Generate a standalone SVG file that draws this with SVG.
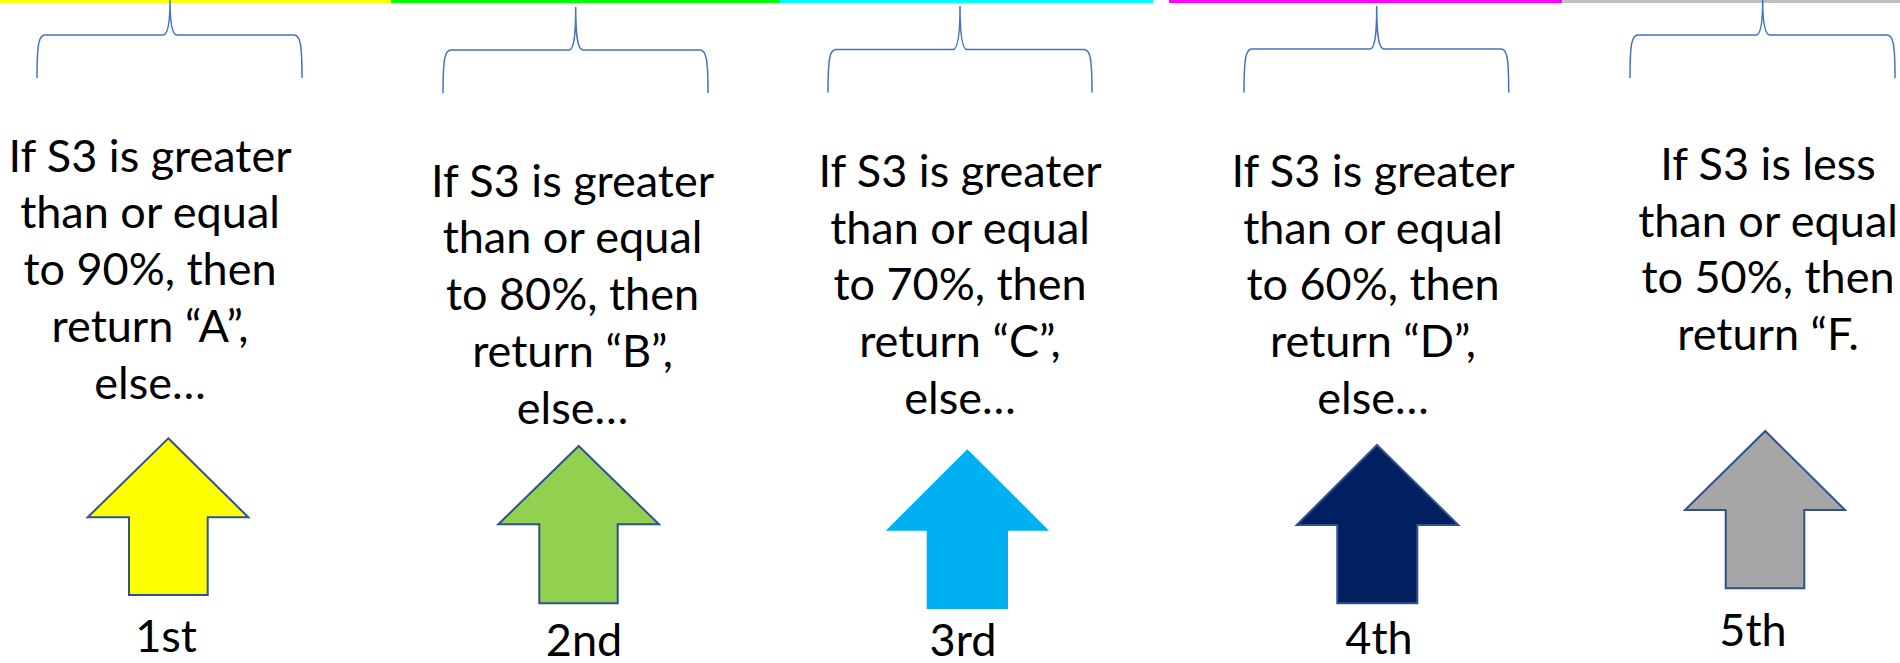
<svg xmlns="http://www.w3.org/2000/svg" width="1900" height="663" viewBox="0 0 1900 663">
<style>
.brace{fill:none;stroke:#4472C4;stroke-width:1.5}
.arrow{stroke:#2F528F;stroke-width:2;stroke-linejoin:miter}
.t{font-family:Lato,"Open Sans",sans-serif;font-size:45px;fill:#000;text-anchor:middle}
</style>
<rect width="1900" height="663" fill="#fff"/>
<g id="topbar">
<rect x="0" y="0" width="391" height="3" fill="#FFFF00"/>
<rect x="391" y="0" width="389" height="3" fill="#00FF00"/>
<rect x="780" y="0" width="373" height="3" fill="#00FFFF"/>
<rect x="1169" y="0" width="393" height="3" fill="#FF00FF"/>
<rect x="1562" y="0" width="338" height="3" fill="#BFBFBF"/>
</g>
<g id="connectors">
<path class="brace" d="M37,78 C37,43 39,35 45,35 L163,35 C168,35 170,20 170,0 C170,20 172,35 177,35 L294,35 C300,35 302,43 302,78"/>
<path class="brace" d="M443,93 C443,58 445,50 451,50 L569,50 C574,50 575.7,35 575.7,7 C575.7,35 577.5,50 583,50 L700,50 C706,50 708,58 708,93"/>
<path class="brace" d="M828,92.5 C828,57.5 830,49.5 836,49.5 L953,49.5 C958,49.5 960,34.5 960,6 C960,34.5 962,49.5 967,49.5 L1084,49.5 C1090,49.5 1092,57.5 1092,92.5"/>
<path class="brace" d="M1244,92.5 C1244,57 1246,49 1252,49 L1370,49 C1375,49 1376.7,34 1376.7,6 C1376.7,34 1378.5,49 1384,49 L1501,49 C1507,49 1508.7,57 1508.7,92.5"/>
<path class="brace" d="M1630,78 C1630,43 1632,35 1638,35 L1756,35 C1761,35 1762.7,20 1762.7,0 C1762.7,20 1764.5,35 1770,35 L1887,35 C1893,35 1895,43 1895,78"/>
</g>
<g id="node1">
<text class="t"><tspan x="150" y="171.7">If S3 is greater</tspan><tspan x="150" y="228.4">than or equal</tspan><tspan x="150" y="285.1">to 90%, then</tspan><tspan x="150" y="341.8">return “A”,</tspan><tspan x="150" y="398.5">else…</tspan></text>
<polygon class="arrow" fill="#FFFF00" points="168.3,438.3 248.3,517.3 207.7,517.3 207.7,595 129,595 129,517.3 87.7,517.3"/>
<text class="t" x="166" y="652">1st</text>
</g>
<g id="node2">
<text class="t"><tspan x="572.5" y="196.7">If S3 is greater</tspan><tspan x="572.5" y="253.4">than or equal</tspan><tspan x="572.5" y="310.1">to 80%, then</tspan><tspan x="572.5" y="366.8">return “B”,</tspan><tspan x="572.5" y="423.5">else…</tspan></text>
<polygon class="arrow" fill="#92D050" points="578.7,446 659,524.3 617.7,524.3 617.7,603.3 539.3,603.3 539.3,524.3 498.3,524.3"/>
<text class="t" x="584" y="656">2nd</text>
</g>
<g id="node3">
<text class="t"><tspan x="960" y="187">If S3 is greater</tspan><tspan x="960" y="243.7">than or equal</tspan><tspan x="960" y="300.4">to 70%, then</tspan><tspan x="960" y="357.1">return “C”,</tspan><tspan x="960" y="413.8">else…</tspan></text>
<polygon fill="#00B0F0" points="967.3,449.3 1049,530.7 1008,530.7 1008,609 926.7,609 926.7,530.7 885.7,530.7"/>
<text class="t" x="963" y="656">3rd</text>
</g>
<g id="node4">
<text class="t"><tspan x="1373" y="187">If S3 is greater</tspan><tspan x="1373" y="243.7">than or equal</tspan><tspan x="1373" y="300.4">to 60%, then</tspan><tspan x="1373" y="357.1">return “D”,</tspan><tspan x="1373" y="413.8">else…</tspan></text>
<polygon class="arrow" fill="#002060" points="1377,445 1458.3,525 1417.3,525 1417.3,603.3 1337.3,603.3 1337.3,525 1296.7,525"/>
<text class="t" x="1379" y="654">4th</text>
</g>
<g id="node5">
<text class="t"><tspan x="1768" y="180">If S3 is less</tspan><tspan x="1768" y="236.7">than or equal</tspan><tspan x="1768" y="293.4">to 50%, then</tspan><tspan x="1768" y="350.1">return “F.</tspan></text>
<polygon class="arrow" fill="#A6A6A6" points="1765.3,431 1845,510 1804.3,510 1804.3,588.3 1725.7,588.3 1725.7,510 1685,510"/>
<text class="t" x="1753" y="646">5th</text>
</g>
</svg>
